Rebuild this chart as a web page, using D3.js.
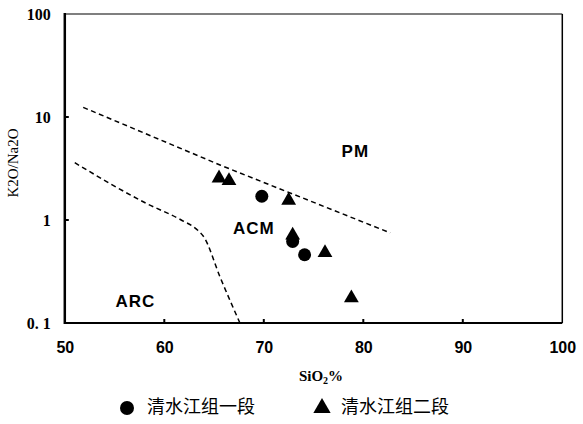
<!DOCTYPE html>
<html>
<head>
<meta charset="utf-8">
<script src="https://cdn.jsdelivr.net/npm/d3@7/dist/d3.min.js"></script>
<style>
html,body{margin:0;padding:0;background:#fff;}
svg{display:block;}
</style>
</head>
<body>
<script>
// ---- data ----
const xTicks = [50, 60, 70, 80, 90, 100];
const yTicks = [0.1, 1, 10, 100];
const yTickLabels = ["0. 1", "1", "10", "100"];
const series1Name = "清水江组一段";
const series1SiO2 = [69.8, 72.9, 74.1];
const series1Ratio = [1.70, 0.62, 0.46];
const series2Name = "清水江组二段";
const series2SiO2 = [65.5, 66.5, 72.5, 72.9, 76.15, 78.8];
const series2Ratio = [2.55, 2.4, 1.55, 0.71, 0.48, 0.175];
const upperBoundX = [51.85, 65.6, 82.7];
const upperBoundY = [12.4, 3.42, 0.75];
const lowerBoundX = [51.0, 58.2, 61.7, 63.2, 64.0, 65.6, 67.6];
const lowerBoundY = [3.6, 1.45, 1.0, 0.82, 0.68, 0.28, 0.1];
const regionNames = ["PM", "ACM", "ARC"];
const regionX = [79.2, 69.0, 57.1];
const regionY = [4.5, 0.8, 0.157];

// ---- layout ----
const W = 583, H = 424;
const pLeft = 64.8, pRight = 562.3, pTop = 14, pBottom = 323;
const svg = d3.select("body").append("svg").attr("width", W).attr("height", H);
const x = d3.scaleLinear().domain([50, 100]).range([pLeft, pRight]);
const y = d3.scaleLog().domain([0.1, 100]).range([pBottom, pTop]);

// frame
svg.append("line").attr("x1", pLeft).attr("x2", pRight).attr("y1", pTop).attr("y2", pTop)
  .attr("stroke", "#000").attr("stroke-width", 1.2);
svg.append("line").attr("x1", pRight).attr("x2", pRight).attr("y1", pTop).attr("y2", pBottom)
  .attr("stroke", "#000").attr("stroke-width", 1.5);
svg.append("line").attr("x1", pLeft).attr("x2", pRight).attr("y1", pBottom).attr("y2", pBottom)
  .attr("stroke", "#000").attr("stroke-width", 2);
svg.append("line").attr("x1", pLeft).attr("x2", pLeft).attr("y1", pTop - 1).attr("y2", pBottom + 1)
  .attr("stroke", "#000").attr("stroke-width", 2.5);

// x axis
const xAxis = d3.axisBottom(x).tickValues(xTicks).tickSize(0).tickPadding(19).tickFormat(d3.format("d"));
const gx = svg.append("g").attr("transform", `translate(0,${pBottom})`).call(xAxis);
gx.select(".domain").remove();
gx.selectAll("text").attr("font-family", "'Liberation Sans', Arial, sans-serif")
  .attr("font-weight", "bold").attr("font-size", 16).attr("fill", "#000");
// inward x ticks
svg.selectAll(".xt").data(xTicks.slice(1, -1)).enter().append("line")
  .attr("x1", d => x(d)).attr("x2", d => x(d)).attr("y1", pBottom).attr("y2", pBottom - 4)
  .attr("stroke", "#000").attr("stroke-width", 2);

// y axis
const yAxis = d3.axisLeft(y).tickValues(yTicks).tickSize(0).tickPadding(14)
  .tickFormat((d, i) => yTickLabels[i]);
const gy = svg.append("g").attr("transform", `translate(${pLeft},0)`).call(yAxis);
gy.select(".domain").remove();
gy.selectAll("text").attr("font-family", "'Liberation Serif', 'Times New Roman', serif")
  .attr("font-weight", "bold").attr("font-size", 16).attr("fill", "#000");
svg.selectAll(".yt").data(yTicks.slice(1, -1)).enter().append("line")
  .attr("x1", pLeft).attr("x2", pLeft + 4).attr("y1", d => y(d)).attr("y2", d => y(d))
  .attr("stroke", "#000").attr("stroke-width", 2);

// axis titles
const xt = svg.append("text").attr("x", 321).attr("y", 381).attr("text-anchor", "middle")
  .attr("font-family", "'Liberation Serif', 'Times New Roman', serif").attr("font-weight", "bold")
  .attr("font-size", 15).attr("fill", "#000");
xt.append("tspan").text("SiO");
xt.append("tspan").text("2").attr("font-size", 10).attr("dy", 3);
xt.append("tspan").text("%").attr("dy", -3);

svg.append("text").attr("transform", "translate(18,163) rotate(-90)").attr("text-anchor", "middle")
  .attr("font-family", "'Liberation Serif', 'Times New Roman', serif")
  .attr("font-size", 15).attr("fill", "#000").text("K2O/Na2O");

// boundary lines
const upper = upperBoundX.map((v, i) => [v, upperBoundY[i]]);
const lower = lowerBoundX.map((v, i) => [v, lowerBoundY[i]]);
const lineGen = d3.line().x(d => x(d[0])).y(d => y(d[1]));
svg.append("path").attr("d", lineGen(upper)).attr("fill", "none").attr("stroke", "#000")
  .attr("stroke-width", 1.5).attr("stroke-dasharray", "5,3.5");
svg.append("path").attr("d", lineGen.curve(d3.curveMonotoneX)(lower)).attr("fill", "none").attr("stroke", "#000")
  .attr("stroke-width", 1.5).attr("stroke-dasharray", "5,3.5");

// region labels
svg.selectAll(".rl").data(regionNames).enter().append("text")
  .attr("x", (d, i) => x(regionX[i])).attr("y", (d, i) => y(regionY[i]))
  .attr("text-anchor", "middle").attr("dominant-baseline", "middle")
  .attr("font-family", "'Liberation Sans', Arial, sans-serif").attr("font-weight", "bold")
  .attr("font-size", 17).attr("letter-spacing", 1).attr("fill", "#000").text(d => d);

// points
const tri = d3.symbol().type(d3.symbolTriangle).size(95);
svg.selectAll(".p2").data(series2SiO2).enter().append("path")
  .attr("d", tri).attr("transform", (d, i) => `translate(${x(d)},${y(series2Ratio[i])})`)
  .attr("fill", "#000");
svg.selectAll(".p1").data(series1SiO2).enter().append("circle")
  .attr("cx", d => x(d)).attr("cy", (d, i) => y(series1Ratio[i])).attr("r", 6.5)
  .attr("fill", "#000");

// legend
const lg = svg.append("g");
lg.append("circle").attr("cx", 127).attr("cy", 408).attr("r", 7).attr("fill", "#000");
lg.append("text").attr("x", 147).attr("y", 408).attr("dominant-baseline", "middle")
  .attr("font-family", "'Noto Sans CJK SC', sans-serif").attr("font-size", 18).attr("fill", "#000")
  .text(series1Name);
lg.append("path").attr("d", d3.symbol().type(d3.symbolTriangle).size(130))
  .attr("transform", "translate(322,408)").attr("fill", "#000");
lg.append("text").attr("x", 341).attr("y", 408).attr("dominant-baseline", "middle")
  .attr("font-family", "'Noto Sans CJK SC', sans-serif").attr("font-size", 18).attr("fill", "#000")
  .text(series2Name);
</script>
</body>
</html>
